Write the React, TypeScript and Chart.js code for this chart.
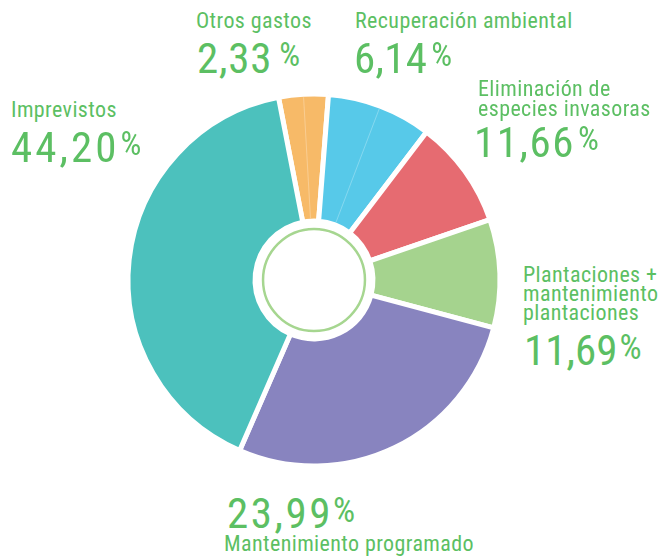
import React, { useEffect, useRef } from "react";
import { Chart, registerables } from "chart.js";

Chart.register(...registerables);

// ---- data ----
const labelLines: string[][] = [
  ["Otros gastos"],
  ["Recuperación ambiental"],
  ["Eliminación de", "especies invasoras"],
  ["Plantaciones +", "mantenimiento", "plantaciones"],
  ["Mantenimiento programado"],
  ["Imprevistos"],
];
const categories = labelLines.map((l) => l.join(" "));
const percentLabels = ["2,33", "6,14", "11,66", "11,69", "23,99", "44,20"];
// slice shares as drawn in the picture (degrees of the ring / 3.6)
const sliceShares = [4.3, 9.1, 9.4, 9.4, 27.4, 40.4];
const sliceColors = ["#f7ba68", "#57c9e9", "#e66b71", "#a5d38e", "#8884bf", "#4cc1bd"];

// ---- styles / layout ----
const TEXT_GREEN = "#5cbf63";
const FONT = '"Liberation Sans Narrow", "Roboto Condensed", "Liberation Sans", Arial, sans-serif';
const LABEL_SIZE = 22;
const LABEL_LS = 0.4;
const NUM_SIZE = 43;
const ASC = 0.8465;

type Layout = {
  x: number;
  baselines: number[];
  numX: number;
  numBase: number;
  numLS: number;
  pctGap: number;
  pctSize: number;
};

const layouts: Layout[] = [
  { x: 196, baselines: [29], numX: 197, numBase: 73, numLS: 0.8, pctGap: 7, pctSize: 33 },
  { x: 355, baselines: [29], numX: 354, numBase: 73, numLS: 0.3, pctGap: 4, pctSize: 33 },
  { x: 478, baselines: [97, 117], numX: 474, numBase: 157, numLS: 1.5, pctGap: 3, pctSize: 33 },
  { x: 523, baselines: [283, 302, 321], numX: 524, numBase: 365, numLS: 0, pctGap: 2, pctSize: 35 },
  { x: 224, baselines: [552], numX: 227, numBase: 528, numLS: 2.5, pctGap: 0, pctSize: 35 },
  { x: 11, baselines: [118], numX: 11, numBase: 162, numLS: 3, pctGap: 1, pctSize: 33 },
];

const CX = 314;
const CY = 280;
const CANVAS = 390;

const ringPlugin = {
  id: "centerRing",
  afterDatasetsDraw(chart: any) {
    const meta = chart.getDatasetMeta(0);
    const arcs = meta.data;
    if (!arcs.length) return;
    const a0 = arcs[0];
    const ctx = chart.ctx;
    ctx.save();
    // faint split lines inside the first two slices
    [0, 1].forEach((i) => {
      const a = arcs[i];
      const mid = (a.startAngle + a.endAngle) / 2;
      ctx.beginPath();
      ctx.moveTo(a.x + Math.cos(mid) * (a.innerRadius + 3), a.y + Math.sin(mid) * (a.innerRadius + 3));
      ctx.lineTo(a.x + Math.cos(mid) * (a.outerRadius - 3), a.y + Math.sin(mid) * (a.outerRadius - 3));
      ctx.strokeStyle = "rgba(255,255,255,0.35)";
      ctx.lineWidth = 0.8;
      ctx.stroke();
    });
    ctx.beginPath();
    ctx.arc(a0.x, a0.y, a0.innerRadius - 8, 0, Math.PI * 2);
    ctx.strokeStyle = "#a6d690";
    ctx.lineWidth = 2.5;
    ctx.stroke();
    ctx.restore();
  },
};

function TextBlock({ idx }: { idx: number }) {
  const L = layouts[idx];
  const lines = labelLines[idx];
  return (
    <>
      {lines.map((t, i) => (
        <div
          key={i}
          style={{
            position: "absolute",
            left: L.x,
            top: L.baselines[i] - ASC * LABEL_SIZE,
            fontSize: LABEL_SIZE,
            lineHeight: `${LABEL_SIZE}px`,
            letterSpacing: LABEL_LS,
            whiteSpace: "nowrap",
            color: TEXT_GREEN,
            fontFamily: FONT,
          }}
        >
          {t}
        </div>
      ))}
      <div
        style={{
          position: "absolute",
          left: L.numX,
          top: L.numBase - ASC * NUM_SIZE,
          fontSize: NUM_SIZE,
          lineHeight: `${NUM_SIZE}px`,
          whiteSpace: "nowrap",
          color: TEXT_GREEN,
          fontFamily: FONT,
        }}
      >
        <span style={{ letterSpacing: L.numLS }}>{percentLabels[idx]}</span>
        <span
          style={{
            fontSize: L.pctSize,
            lineHeight: `${L.pctSize}px`,
            verticalAlign: "top",
            position: "relative",
            top: 1.5,
            marginLeft: L.pctGap,
            display: "inline-block",
          }}
        >
          %
        </span>
      </div>
    </>
  );
}

export default function App() {
  const ref = useRef<HTMLCanvasElement | null>(null);
  useEffect(() => {
    if (!ref.current) return;
    const chart = new Chart(ref.current, {
      type: "doughnut",
      data: {
        labels: categories,
        datasets: [
          {
            data: sliceShares,
            backgroundColor: sliceColors,
            borderColor: "#ffffff",
            borderWidth: 5,
            hoverOffset: 0,
          },
        ],
      },
      options: {
        responsive: false,
        animation: false,
        rotation: -11,
        radius: 186,
        cutout: "31.7%",
        layout: { padding: 0 },
        plugins: {
          legend: { display: false },
          tooltip: { enabled: false },
        },
        events: [],
      } as any,
      plugins: [ringPlugin],
    });
    return () => chart.destroy();
  }, []);

  return (
    <div
      style={{
        position: "fixed",
        left: 0,
        top: 0,
        width: 666,
        height: 560,
        background: "#ffffff",
        overflow: "hidden",
      }}
    >
      <canvas
        ref={ref}
        width={CANVAS}
        height={CANVAS}
        style={{
          position: "absolute",
          left: CX - CANVAS / 2,
          top: CY - CANVAS / 2,
          width: CANVAS,
          height: CANVAS,
        }}
      />
      {labelLines.map((_, i) => (
        <TextBlock key={i} idx={i} />
      ))}
    </div>
  );
}
